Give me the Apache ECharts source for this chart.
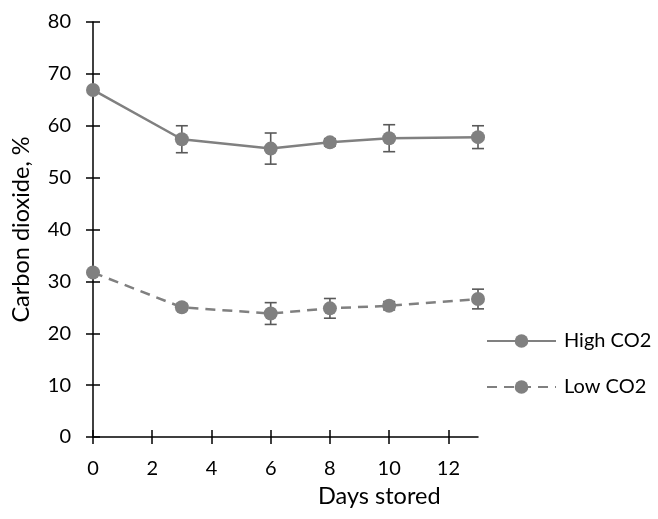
<!DOCTYPE html>
<html>
<head>
<meta charset="utf-8">
<script src="https://cdn.jsdelivr.net/npm/echarts@6/dist/echarts.min.js"></script>
<style>html,body{margin:0;padding:0;background:#fff}#c{width:658px;height:519px}</style>
</head>
<body>
<div id="c"></div>
<script>
const days = [0, 3, 6, 8, 10, 13];
const highCO2 = [66.9, 57.4, 55.6, 56.8, 57.6, 57.8];
const highErr = [0.4, 2.6, 3.0, 0.7, 2.6, 2.2];
const lowCO2 = [31.7, 25.0, 23.8, 24.8, 25.3, 26.6];
const lowErr = [0.5, 0.6, 2.1, 1.9, 0.8, 1.9];
const xTicks = [0, 2, 4, 6, 8, 10, 12];
const yTicks = [0, 10, 20, 30, 40, 50, 60, 70, 80];
const seriesNames = ['High CO2', 'Low CO2'];
const xTitle = 'Days stored';
const yTitle = 'Carbon dioxide, %';

const FONT = 'Lato';
const FS = 20;
const TFS = 23.5;
const GRAY = '#808080';

function pairs(xs, ys) { return xs.map((x, i) => [x, ys[i]]); }
function errData(xs, ys, es) { return xs.map((x, i) => [x, ys[i] - es[i], ys[i] + es[i]]); }

function errRender(params, api) {
  const x = api.value(0);
  const lo = api.coord([x, api.value(1)]);
  const hi = api.coord([x, api.value(2)]);
  const cap = 6;
  const style = { stroke: '#595959', lineWidth: 1.6, fill: null };
  return {
    type: 'group',
    children: [
      { type: 'line', shape: { x1: lo[0], y1: lo[1], x2: hi[0], y2: hi[1] }, style },
      { type: 'line', shape: { x1: lo[0] - cap, y1: lo[1], x2: lo[0] + cap, y2: lo[1] }, style },
      { type: 'line', shape: { x1: hi[0] - cap, y1: hi[1], x2: hi[0] + cap, y2: hi[1] }, style }
    ]
  };
}

const chart = echarts.init(document.getElementById('c'), null, { renderer: 'canvas' });
const axisLineStyle = { color: '#000', width: 1.5 };
chart.setOption({
  animation: false,
  backgroundColor: '#fff',
  textStyle: { fontFamily: FONT },
  grid: { left: 93, top: 22, right: 180, bottom: 82, containLabel: false, outerBoundsMode: 'none' },
  xAxis: [
    {
      type: 'value', min: 0, max: 13, position: 'bottom',
      axisLine: { show: true, lineStyle: axisLineStyle },
      axisTick: { show: true, inside: false, length: 7, lineStyle: axisLineStyle, customValues: xTicks },
      axisLabel: { show: true, customValues: xTicks, margin: 22, color: '#000', fontSize: FS, fontFamily: FONT },
      splitLine: { show: false }
    },
    {
      type: 'value', min: 0, max: 13, position: 'bottom',
      axisLine: { show: false },
      axisTick: { show: true, inside: true, length: 7, lineStyle: axisLineStyle, customValues: xTicks },
      axisLabel: { show: false },
      splitLine: { show: false }
    }
  ],
  yAxis: [
    {
      type: 'value', min: 0, max: 80, position: 'left',
      name: yTitle, nameLocation: 'middle', nameGap: 60,
      nameTextStyle: { color: '#000', fontSize: TFS, fontFamily: FONT },
      axisLine: { show: true, lineStyle: axisLineStyle },
      axisTick: { show: true, inside: false, length: 7, lineStyle: axisLineStyle, customValues: yTicks },
      axisLabel: { show: true, customValues: yTicks, margin: 22, color: '#000', fontSize: FS, fontFamily: FONT },
      splitLine: { show: false }
    },
    {
      type: 'value', min: 0, max: 80, position: 'left',
      axisLine: { show: false },
      axisTick: { show: true, inside: true, length: 7, lineStyle: axisLineStyle, customValues: yTicks },
      axisLabel: { show: false },
      splitLine: { show: false }
    }
  ],
  legend: {
    data: seriesNames,
    orient: 'vertical',
    left: 486, top: 331,
    itemWidth: 69, itemHeight: 17, itemGap: 26,
    padding: 0,
    textStyle: { color: '#000', fontSize: FS, fontFamily: FONT, padding: [0, 0, 0, 3] }
  },
  graphic: [
    { type: 'text', x: 318, y: 496, style: { text: xTitle, fill: '#000', font: TFS + 'px ' + FONT, align: 'left', verticalAlign: 'middle' } }
  ],
  series: [
    {
      type: 'custom', name: 'highErr', xAxisIndex: 0, yAxisIndex: 0, z: 1,
      renderItem: errRender, data: errData(days, highCO2, highErr), silent: true
    },
    {
      type: 'custom', name: 'lowErr', xAxisIndex: 0, yAxisIndex: 0, z: 1,
      renderItem: errRender, data: errData(days, lowCO2, lowErr), silent: true
    },
    {
      type: 'line', name: seriesNames[0], xAxisIndex: 0, yAxisIndex: 0, z: 3,
      data: pairs(days, highCO2),
      symbol: 'circle', symbolSize: 14,
      itemStyle: { color: GRAY },
      lineStyle: { color: GRAY, width: 2.5 }
    },
    {
      type: 'line', name: seriesNames[1], xAxisIndex: 0, yAxisIndex: 0, z: 3,
      data: pairs(days, lowCO2),
      symbol: 'circle', symbolSize: 14,
      itemStyle: { color: GRAY },
      lineStyle: { color: GRAY, width: 2.5, type: [10, 7] }
    }
  ]
});
</script>
</body>
</html>
